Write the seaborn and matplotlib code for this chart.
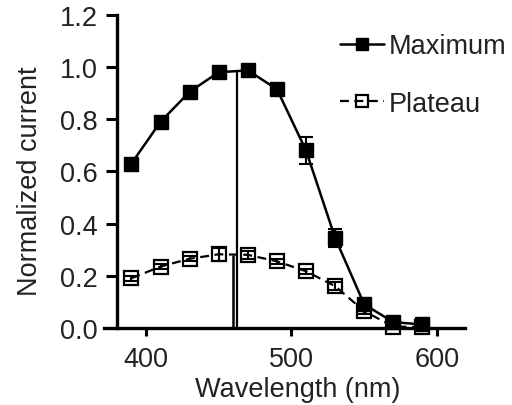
import matplotlib
matplotlib.use("Agg")
import matplotlib.pyplot as plt
import seaborn as sns
import numpy as np
import pandas as pd
from matplotlib.lines import Line2D

wavelength = [390, 410, 430, 450, 470, 490, 510, 530, 550, 570, 590]
maximum = [0.63, 0.79, 0.905, 0.98, 0.987, 0.915, 0.68, 0.345, 0.09, 0.022, 0.013]
maximum_err = [0.01, 0.01, 0.01, 0.01, 0.01, 0.01, 0.05, 0.035, 0.015, 0.01, 0.005]
plateau = [0.19, 0.235, 0.265, 0.282, 0.28, 0.255, 0.217, 0.16, 0.064, 0.005, 0.003]
plateau_err = [0.01, 0.01, 0.01, 0.025, 0.015, 0.01, 0.01, 0.015, 0.01, 0.005, 0.003]
peak_wl = [462.3, 460.0]
peak_val = [0.985, 0.28]
series_names = ["Maximum", "Plateau"]
xticks = [400, 500, 600]
yticks = [0.0, 0.2, 0.4, 0.6, 0.8, 1.0, 1.2]

sns.set_style("ticks")
plt.rcParams["font.family"] = ["Liberation Sans", "DejaVu Sans"]

FS = 19.5
TXT = "#222222"

fig = plt.figure(figsize=(5.12, 4.06), dpi=100)
ax = fig.add_axes([0.203, 0.19, 0.705, 0.771])

df = pd.DataFrame({"Wavelength": wavelength * 2,
                   "Value": maximum + plateau,
                   "Series": [series_names[0]] * len(wavelength) + [series_names[1]] * len(wavelength)})

# vertical peak lines
ax.vlines(peak_wl[0], 0, peak_val[0], color="black", lw=1.6, zorder=1)
ax.vlines(peak_wl[1], 0, peak_val[1], color="black", lw=1.8, zorder=1)

ax.errorbar(wavelength, maximum, yerr=maximum_err, fmt="none", ecolor="black",
            elinewidth=1.5, capsize=5, capthick=1.5, zorder=2)
ax.errorbar(wavelength, plateau, yerr=plateau_err, fmt="none", ecolor="black",
            elinewidth=1.5, capsize=5, capthick=1.5, zorder=2)

sns.lineplot(data=df[df.Series == "Plateau"], x="Wavelength", y="Value", ax=ax,
             color="black", lw=1.6, marker="s", markersize=10.5, markerfacecolor="none",
             markeredgecolor="black", markeredgewidth=1.6, legend=False, zorder=3)
ax.lines[-1].set_linestyle((0, (4, 2.5)))
sns.lineplot(data=df[df.Series == "Maximum"], x="Wavelength", y="Value", ax=ax,
             color="black", lw=1.8, marker="s", markersize=10.5, markerfacecolor="black",
             markeredgecolor="black", markeredgewidth=1.0, legend=False, zorder=4)

ax.set_xlim(371.1, 619.2)
ax.set_ylim(0, 1.2)
ax.set_xticks(xticks)
ax.set_yticks(yticks)
ax.set_yticklabels([f"{v:.1f}" for v in yticks])
ax.set_xlabel("Wavelength (nm)", fontsize=FS, color=TXT)
ax.set_ylabel("Normalized current", fontsize=FS, color=TXT)
ax.xaxis.set_label_coords(0.536, -0.155)
ax.yaxis.set_label_coords(-0.168, 0.47)
ax.tick_params(axis="x", labelsize=FS, width=2.2, length=6, color="black", pad=7, labelcolor=TXT)
ax.tick_params(axis="y", labelsize=FS, width=2.2, length=8, color="black", pad=6, labelcolor=TXT)

for s in ["top", "right"]:
    ax.spines[s].set_visible(False)
ax.spines["left"].set_position(("data", 380.0))
ax.spines["left"].set_linewidth(2.4)
ax.spines["bottom"].set_linewidth(2.4)
ax.spines["left"].set_color("black")
ax.spines["bottom"].set_color("black")
ax.spines["left"].set_bounds(0, 1.2)
for ln in ax.lines:
    ln.set_clip_on(False)

handles = [
    Line2D([], [], color="black", lw=1.8, marker="s", markersize=9, markerfacecolor="black"),
    Line2D([], [], color="black", lw=1.6, ls=(0, (4, 2.5)), marker="s", markersize=9,
           markerfacecolor="none", markeredgewidth=1.6),
]
leg = ax.legend(handles, series_names, loc="upper left", bbox_to_anchor=(0.625, 0.975),
                frameon=False, fontsize=FS, handlelength=1.6, handletextpad=0.2,
                labelspacing=1.15, borderaxespad=0, labelcolor=TXT)

fig.savefig("out.png", dpi=100)
